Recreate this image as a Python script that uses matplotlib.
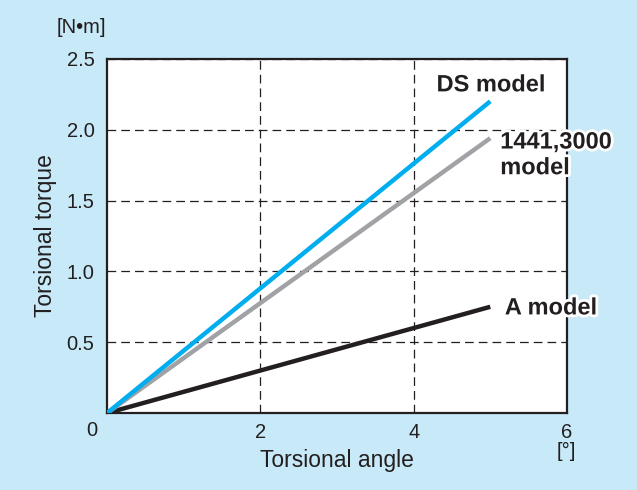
import matplotlib
matplotlib.use("Agg")
import matplotlib.pyplot as plt
import matplotlib.patheffects as pe

plt.rcParams['font.family'] = ['Liberation Sans', 'DejaVu Sans']

# data
angle = [0, 5]
ds_torque = [0, 2.2]
mid_torque = [0, 1.94]
a_torque = [0, 0.75]

xticks = [2, 4, 6]
yticks = [0.5, 1.0, 1.5, 2.0, 2.5]

bg = '#c8e9f8'
ink = '#231f20'

fig = plt.figure(figsize=(6.37, 4.9), dpi=100, facecolor=bg)
ax = fig.add_axes([0.168, 0.157, 0.722, 0.723])
ax.set_facecolor('white')

ax.plot(angle, a_torque, color=ink, lw=3.2, solid_capstyle='butt', zorder=3)
ax.plot(angle, mid_torque, color='#a0a2a5', lw=3.2, solid_capstyle='butt', zorder=4)
ax.plot(angle, ds_torque, color='#00aeef', lw=3.2, solid_capstyle='butt', zorder=5)

ax.set_xlim(0, 6)
ax.set_ylim(0, 2.5)
ax.set_xticks(xticks)
ax.set_yticks(yticks)
ax.set_xticklabels([str(v) for v in xticks])
ax.set_yticklabels([f'{v:.1f}' for v in yticks])
ax.tick_params(length=0, labelsize=14.5, colors=ink)
ax.tick_params(axis='y', pad=9)
ax.tick_params(axis='x', pad=7)
ax.grid(True, color=ink, lw=0.9, linestyle=(0, (7, 4)))
for s in ax.spines.values():
    s.set_linewidth(1.6)
    s.set_color(ink)

ax.set_xlabel('Torsional angle', fontsize=16.5, color=ink, labelpad=5)
ax.set_ylabel('Torsional torque', fontsize=16.5, color=ink, labelpad=7)

ax.text(-0.2, -0.12, '0', fontsize=14.5, color=ink, ha='center', va='center', clip_on=False)
ax.text(-0.34, 2.72, '[N•m]', fontsize=14.5, color=ink, ha='center', va='center', clip_on=False)
ax.text(5.99, -0.27, '[°]', fontsize=14.5, color=ink, ha='center', va='center', clip_on=False)

halo = [pe.withStroke(linewidth=4, foreground='white')]
lab = dict(fontsize=17, fontweight='bold', color=ink, clip_on=False, path_effects=halo, zorder=6)
ax.text(5.01, 2.316, 'DS model', ha='center', va='center', **lab)
ax.text(5.13, 1.822, '1441,3000\nmodel', ha='left', va='center', linespacing=1.15, **lab)
ax.text(5.19, 0.742, 'A model', ha='left', va='center', **lab)

fig.savefig('out.png', dpi=100, facecolor=bg)
